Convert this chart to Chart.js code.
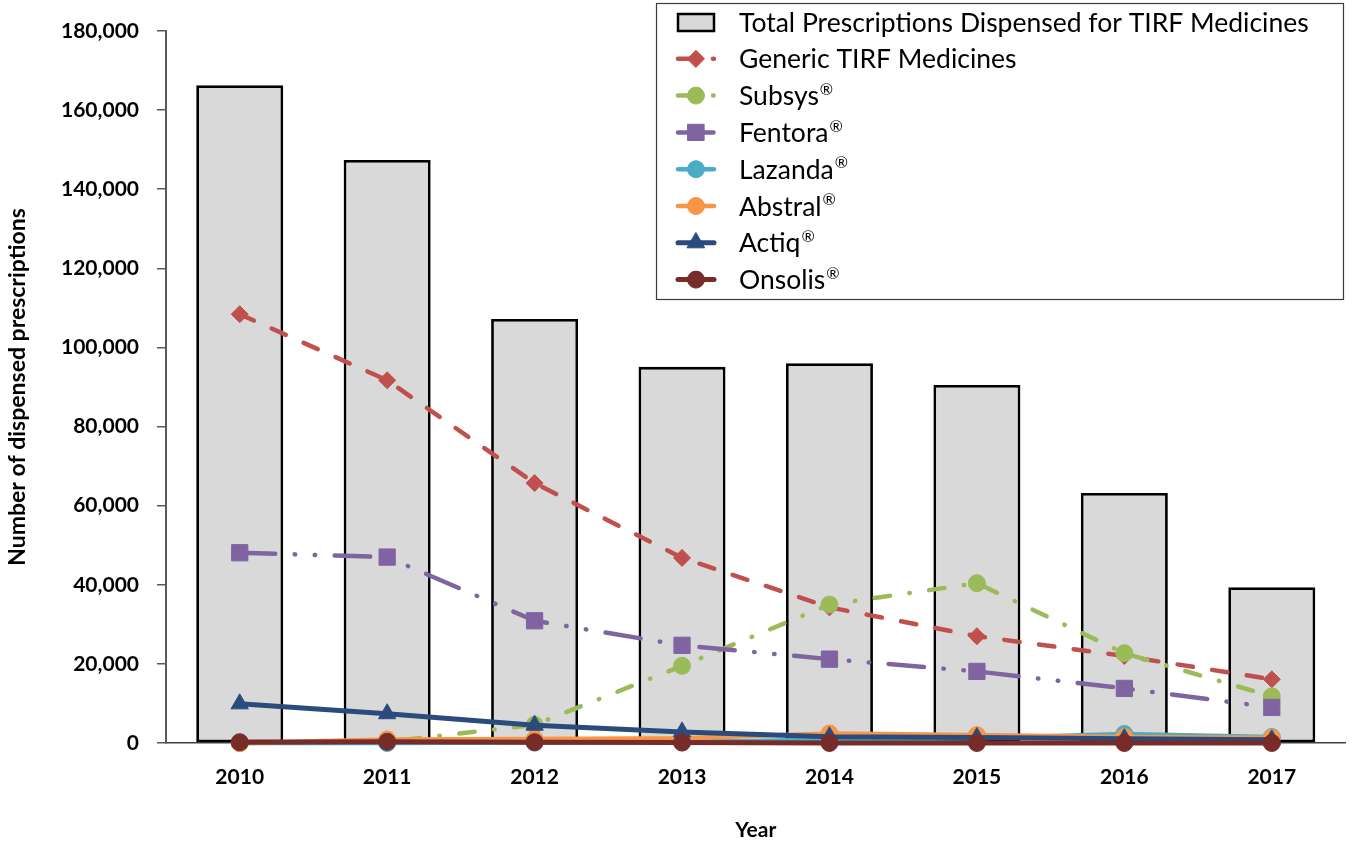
<!DOCTYPE html>
<html>
<head>
<meta charset="utf-8">
<title>TIRF Medicines – dispensed prescriptions</title>
<script src="https://cdn.jsdelivr.net/npm/chart.js@4.4.1/dist/chart.umd.min.js"></script>
<style>
  html, body { margin: 0; padding: 0; background: #fff; }
  #wrap { width: 1358px; height: 843px; }
</style>
</head>
<body>
<div id="wrap"><canvas id="rxChart" width="1358" height="843"></canvas></div>
<script>
// Dispensed prescriptions per year
const years = ['2010', '2011', '2012', '2013', '2014', '2015', '2016', '2017'];
const totalRx = [166300, 147400, 107200, 95100, 96000, 90500, 63200, 39400];
const genericRx = [108400, 91700, 65700, 46800, 34300, 27000, 22000, 16100];
const subsysRx = [0, 300, 4600, 19500, 35000, 40400, 22700, 11800];
const fentoraRx = [48100, 47000, 30900, 24700, 21200, 18100, 13800, 9000];
const lazandaRx = [0, 0, 100, 300, 800, 1200, 2300, 1500];
const abstralRx = [0, 900, 1000, 1200, 2400, 2000, 1500, 1300];
const actiqRx = [9900, 7400, 4500, 2800, 1600, 1400, 1100, 800];
const onsolisRx = [200, 300, 200, 100, 0, 0, 0, 0];

const yTicks = { min: 0, max: 180000, step: 20000 };

const FONT = 'Lato, "Open Sans", sans-serif';

// line series helper: round caps so dashes look like the office-style ones
function lineSeries(label, data, color, style, radius, dash, order, width) {
  return {
    type: 'line',
    label,
    data,
    order,
    borderColor: color,
    backgroundColor: color,
    borderWidth: width || 4.5,
    borderDash: dash || [],
    borderCapStyle: 'round',
    borderJoinStyle: 'round',
    pointStyle: style,
    pointRadius: radius,
    pointBackgroundColor: color,
    pointBorderColor: color,
    pointBorderWidth: 1,
    tension: 0,
    fill: false,
    clip: false
  };
}

// boxed legend in the upper right, drawn with each dataset's own styling
const boxLegend = {
  id: 'boxLegend',
  afterDraw(chart, args, o) {
    const ctx = chart.ctx;
    ctx.save();
    ctx.fillStyle = '#fff';
    ctx.fillRect(o.left, o.top, o.width, o.height);
    ctx.strokeStyle = '#3a3a3a';
    ctx.lineWidth = 1.2;
    ctx.strokeRect(o.left + 0.5, o.top + 0.5, o.width, o.height);

    chart.data.datasets.forEach((ds, i) => {
      const y = o.firstRow + i * o.rowGap;
      const x0 = o.left + 22;
      const x1 = x0 + 36;
      const xm = (x0 + x1) / 2;

      if (ds.type === 'bar') {
        ctx.fillStyle = ds.backgroundColor;
        ctx.fillRect(x0, y - 8, 36, 17);
        ctx.strokeStyle = ds.borderColor;
        ctx.lineWidth = 2.5;
        ctx.strokeRect(x0, y - 8, 36, 17);
      } else {
        ctx.strokeStyle = ds.borderColor;
        ctx.lineWidth = ds.borderWidth;
        ctx.lineCap = 'round';
        ctx.setLineDash(ds.borderDash);
        ctx.beginPath();
        ctx.moveTo(x0, y);
        ctx.lineTo(x1, y);
        ctx.stroke();
        ctx.setLineDash([]);
        ctx.fillStyle = ds.pointBackgroundColor;
        ctx.lineWidth = 1;
        Chart.helpers.drawPoint(ctx, {
          pointStyle: ds.pointStyle,
          radius: ds.pointRadius,
          rotation: 0,
          borderWidth: 1
        }, xm, y);
      }

      // label text, with a raised smaller ® where present
      const parts = ds.label.split('®');
      ctx.fillStyle = '#000';
      ctx.textBaseline = 'middle';
      ctx.textAlign = 'left';
      ctx.font = o.fontSize + 'px ' + FONT;
      let tx = x1 + 25;
      ctx.fillText(parts[0], tx, y + 1);
      if (parts.length > 1) {
        tx += ctx.measureText(parts[0]).width + 1;
        ctx.font = Math.round(o.fontSize * 0.6) + 'px ' + FONT;
        ctx.fillText('®', tx, y - 6);
      }
    });
    ctx.restore();
  }
};

function build() {
  const ctx = document.getElementById('rxChart').getContext('2d');
  new Chart(ctx, {
    data: {
      labels: years,
      datasets: [
        {
          type: 'bar',
          label: 'Total Prescriptions Dispensed for TIRF Medicines',
          data: totalRx,
          order: 10,
          backgroundColor: '#D9D9D9',
          borderColor: '#000000',
          borderWidth: 2.8,
          borderSkipped: false,
          barPercentage: 0.59,
          categoryPercentage: 1
        },
        lineSeries('Generic TIRF Medicines', genericRx, '#C0504D', 'rectRot', 8.5, [15.5, 19.5], 7),
        lineSeries('Subsys®', subsysRx, '#9BBB59', 'circle', 8.5, [15.5, 19.5, 0.5, 19.5], 6),
        lineSeries('Fentora®', fentoraRx, '#8064A2', 'rect', 11.5, [35.5, 19.5, 0.5, 19.5, 0.5, 19.5], 5),
        lineSeries('Lazanda®', lazandaRx, '#4BACC6', 'circle', 8.5, [], 4),
        lineSeries('Abstral®', abstralRx, '#F79646', 'circle', 8.5, [], 3),
        lineSeries('Actiq®', actiqRx, '#2A4B7C', 'triangle', 10, [], 2, 5),
        lineSeries('Onsolis®', onsolisRx, '#772C2A', 'circle', 8.5, [], 1, 5)
      ]
    },
    options: {
      responsive: false,
      animation: false,
      layout: { padding: { top: 31, right: 4, bottom: 0, left: 0 } },
      plugins: {
        legend: { display: false },
        tooltip: { enabled: false },
        boxLegend: {
          left: 656, top: 3, width: 687, height: 296,
          firstRow: 22, rowGap: 36.8, fontSize: 26.5
        }
      },
      scales: {
        x: {
          type: 'category',
          offset: true,
          grid: { display: false, drawTicks: false },
          border: { display: true, color: '#404040', width: 1.5 },
          ticks: {
            color: '#000',
            padding: 22,
            font: { family: FONT, size: 21, weight: 'bold' }
          },
          title: {
            display: true,
            text: 'Year',
            color: '#000',
            padding: { top: 0, bottom: 0 },
            font: { family: FONT, size: 21, weight: 'bold' }
          },
          afterFit(scale) { scale.height = 100; }
        },
        y: {
          min: yTicks.min,
          max: yTicks.max,
          grid: {
            drawOnChartArea: false,
            drawTicks: true,
            tickLength: 9,
            color: '#595959',
            lineWidth: 1.5
          },
          border: { display: true, color: '#595959', width: 2 },
          ticks: {
            stepSize: yTicks.step,
            color: '#000',
            padding: 18,
            font: { family: FONT, size: 21, weight: 'bold' },
            callback: v => v.toLocaleString('en-US')
          },
          title: {
            display: true,
            text: 'Number of dispensed prescriptions',
            color: '#000',
            padding: { top: 4, bottom: 0 },
            font: { family: FONT, size: 23, weight: 'bold' }
          },
          afterFit(scale) { scale.width = 166; }
        }
      }
    },
    plugins: [boxLegend]
  });
}

if (document.fonts && document.fonts.load) {
  Promise.all([
    document.fonts.load('bold 21px Lato'),
    document.fonts.load('24px Lato')
  ]).then(build, build);
} else {
  build();
}
</script>
</body>
</html>
